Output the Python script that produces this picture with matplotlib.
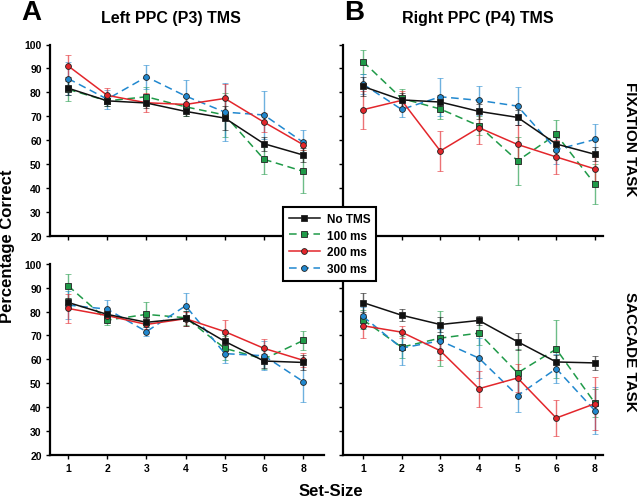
import numpy as np
import matplotlib.pyplot as plt

plt.rcParams['font.family'] = ['Liberation Sans', 'DejaVu Sans']
plt.rcParams['font.weight'] = 'bold'

set_sizes = ['1', '2', '3', '4', '5', '6', '8']
conditions = ['No TMS', '100 ms', '200 ms', '300 ms']

# mean percentage correct, per panel, per condition
left_fix = {
    'No TMS': [81.8, 76.5, 75.6, 72.1, 69.3, 58.6, 53.9],
    '100 ms': [81.3, 76.5, 78.2, 74.0, 70.6, 52.1, 47.1],
    '200 ms': [91.1, 78.8, 75.7, 75.0, 77.5, 67.6, 58.2],
    '300 ms': [85.8, 77.2, 86.5, 78.5, 71.8, 70.6, 59.2],
}
left_fix_err = {
    'No TMS': [3, 2, 2, 2, 5, 3, 3],
    '100 ms': [5, 2, 4, 4, 9, 6, 9],
    '200 ms': [4.5, 3, 4, 3, 6, 4, 2],
    '300 ms': [7, 4, 5, 6.5, 12, 10, 5],
}
right_fix = {
    'No TMS': [82.5, 76.9, 76.0, 72.1, 69.6, 58.5, 54.2],
    '100 ms': [92.9, 77.5, 73.1, 66.1, 51.5, 62.5, 41.8],
    '200 ms': [72.8, 76.7, 55.6, 65.3, 58.3, 53.1, 48.1],
    '300 ms': [83.5, 72.9, 78.2, 76.7, 74.3, 56.1, 60.4],
}
right_fix_err = {
    'No TMS': [4, 3, 3, 3, 3, 3, 3],
    '100 ms': [5, 4, 4, 4, 10, 6, 8.5],
    '200 ms': [8, 4, 8.5, 7, 8, 7, 5],
    '300 ms': [4, 3, 8, 6, 8, 6, 6.5],
}
left_sac = {
    'No TMS': [83.8, 78.8, 75.5, 77.1, 67.5, 59.3, 58.7],
    '100 ms': [90.8, 76.4, 78.8, 77.4, 64.6, 60.1, 67.9],
    '200 ms': [81.3, 78.3, 74.6, 77.0, 71.6, 64.6, 59.6],
    '300 ms': [82.7, 81.0, 71.6, 82.4, 62.4, 61.5, 50.7],
}
left_sac_err = {
    'No TMS': [2, 2, 2, 3, 3, 3, 3],
    '100 ms': [5, 2, 5, 3, 5, 4, 4],
    '200 ms': [6, 2, 2, 3, 5, 4, 3],
    '300 ms': [6, 4, 2, 5.5, 4, 6, 8.5],
}
right_sac = {
    'No TMS': [83.7, 78.4, 74.5, 76.2, 67.3, 58.8, 58.4],
    '100 ms': [76.5, 65.0, 68.8, 70.9, 54.2, 64.2, 41.6],
    '200 ms': [74.0, 71.3, 63.5, 47.6, 52.1, 35.3, 41.3],
    '300 ms': [77.9, 64.6, 67.7, 60.4, 44.7, 56.0, 38.4],
}
right_sac_err = {
    'No TMS': [4, 2.5, 3, 2, 3.5, 3, 3],
    '100 ms': [4, 4.5, 11.5, 5, 10, 12, 6],
    '200 ms': [5, 2.5, 4, 7.5, 6, 7.5, 11],
    '300 ms': [4, 7, 5, 8.5, 7, 6, 10],
}

colors = {'No TMS': '#111111', '100 ms': '#1f9a48', '200 ms': '#e3262b', '300 ms': '#2188cf'}
styles = {'No TMS': '-', '100 ms': (0, (5, 3)), '200 ms': '-', '300 ms': (0, (5, 3))}
markers = {'No TMS': 's', '100 ms': 's', '200 ms': 'o', '300 ms': 'o'}
order = ['100 ms', '300 ms', '200 ms', 'No TMS']

fig = plt.figure(figsize=(6.4, 5.02), dpi=100)

W, H = 640.0, 502.0
panels = [
    # (left px, right px, top px, bottom px, xlim, data, err, y labels, x labels)
    (50, 324, 45.5, 237.3, (-0.46, 6.53), left_fix, left_fix_err, True, False),
    (343, 603, 45.5, 237.3, (-0.517, 6.21), right_fix, right_fix_err, False, False),
    (50, 324, 264.7, 456, (-0.46, 6.53), left_sac, left_sac_err, True, True),
    (343, 603, 264.7, 455.5, (-0.517, 6.21), right_sac, right_sac_err, False, True),
]

x = np.arange(len(set_sizes))
handles = {}
for l, r, t, b, xl, data, err, ylab, xlab in panels:
    ax = fig.add_axes([l / W, 1 - b / H, (r - l) / W, (b - t) / H])
    for c in order:
        eb = ax.errorbar(x, data[c], yerr=err[c], color=colors[c], linestyle=styles[c],
                         linewidth=1.1, marker=markers[c], markersize=4.2,
                         markeredgecolor='#222222', markeredgewidth=0.6,
                         ecolor=colors[c], elinewidth=1, capsize=2, capthick=1)
        for part in eb[1] + eb[2]:
            part.set_alpha(0.65)
        handles[c] = eb[0]
    ax.set_xlim(*xl)
    ax.set_ylim(20, 100)
    ax.set_xticks(x)
    ax.set_xticklabels(set_sizes if xlab else [])
    ax.set_yticks(range(20, 101, 10))
    if not ylab:
        ax.set_yticklabels([])
    for s in ['top', 'right']:
        ax.spines[s].set_visible(False)
    for s in ['left', 'bottom']:
        ax.spines[s].set_linewidth(1.6)
    ax.tick_params(length=3, width=1, labelsize=7.5, pad=3)
    for lab in ax.get_xticklabels() + ax.get_yticklabels():
        lab.set_fontweight('bold')

leg = fig.legend([handles[c] for c in conditions], conditions, loc='center',
                 bbox_to_anchor=(0.515, 0.512), fancybox=False, framealpha=1,
                 edgecolor='black', prop={'weight': 'bold', 'size': 8.5},
                 handlelength=2.6, borderpad=0.5, labelspacing=0.4, handletextpad=0.6)
leg.get_frame().set_linewidth(1.5)

fig.text(31 / W, 1 - 13 / H, 'A', fontsize=20, fontweight='bold', ha='center', va='center')
fig.text(171 / W, 1 - 18.5 / H, 'Left PPC (P3) TMS', fontsize=11.5, fontweight='bold', ha='center', va='center')
fig.text(354 / W, 1 - 13 / H, 'B', fontsize=20, fontweight='bold', ha='center', va='center')
fig.text(478 / W, 1 - 18.5 / H, 'Right PPC (P4) TMS', fontsize=11.5, fontweight='bold', ha='center', va='center')
fig.text(8 / W, 1 - 246 / H, 'Percentage Correct', fontsize=12, fontweight='bold',
         rotation=90, ha='center', va='center')
fig.text(331 / W, 1 - 492 / H, 'Set-Size', fontsize=12, fontweight='bold', ha='center', va='center')
fig.text(630 / W, 1 - 139 / H, 'FIXATION TASK', fontsize=11, fontweight='bold',
         rotation=270, ha='center', va='center')
fig.text(630 / W, 1 - 352 / H, 'SACCADE TASK', fontsize=11, fontweight='bold',
         rotation=270, ha='center', va='center')

fig.savefig('out.png', dpi=100)
